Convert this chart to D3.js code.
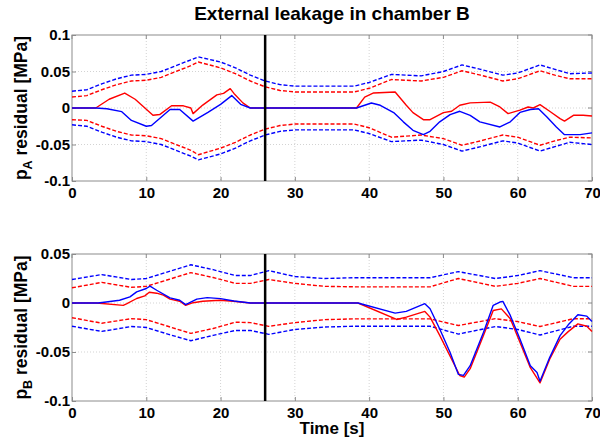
<!DOCTYPE html>
<html><head><meta charset="utf-8">
<script src="https://cdn.jsdelivr.net/npm/d3@7"></script>
<style>body{margin:0;background:#fff}svg{display:block}text{font-family:"Liberation Sans",Arial,sans-serif;font-weight:bold}</style>
</head><body><svg id="c" width="600" height="439"></svg>
<script>
// ---------- data ----------
const xTicks = [0,10,20,30,40,50,60,70];
const yTicksA = [-0.1,-0.05,0,0.05,0.1];
const yTickLabelsA = ["-0.1","-0.05","0","0.05","0.1"];
const yTicksB = [-0.1,-0.05,0,0.05];
const yTickLabelsB = ["-0.1","-0.05","0","0.05"];
const faultTime = 26;

// top panel thresholds
const thrAx = [0,2,4,6,8,10,12,14,16,17,20,22,24,26,28,30,34,38,40,43,47,50,52.5,55,58,60,63,65,67,70];
const thrAblueUp = [0.023,0.025,0.033,0.040,0.045,0.046,0.050,0.058,0.066,0.070,0.063,0.055,0.045,0.037,0.032,0.030,0.030,0.030,0.035,0.046,0.044,0.050,0.059,0.053,0.045,0.048,0.059,0.053,0.047,0.048];
const thrAredUp  = [0.015,0.017,0.025,0.032,0.037,0.038,0.042,0.050,0.058,0.063,0.055,0.047,0.037,0.029,0.024,0.022,0.022,0.022,0.027,0.039,0.037,0.042,0.051,0.045,0.037,0.040,0.051,0.045,0.040,0.040];
const thrAblueLo = [-0.023,-0.025,-0.033,-0.040,-0.045,-0.046,-0.050,-0.058,-0.066,-0.071,-0.063,-0.055,-0.045,-0.037,-0.032,-0.030,-0.030,-0.030,-0.035,-0.046,-0.044,-0.050,-0.059,-0.053,-0.045,-0.048,-0.059,-0.053,-0.047,-0.050];
const thrAredLo  = [-0.016,-0.017,-0.025,-0.032,-0.037,-0.038,-0.042,-0.050,-0.058,-0.064,-0.055,-0.047,-0.037,-0.029,-0.024,-0.022,-0.022,-0.022,-0.027,-0.040,-0.037,-0.042,-0.051,-0.045,-0.037,-0.040,-0.051,-0.045,-0.040,-0.041];

// top panel residuals
const resAredX = [0,3.2,5,7.1,8.5,10.9,11.8,13.4,15,16,16.3,17.6,19.5,20.4,21.3,21.8,23,24,38.3,39.4,40.6,43.5,45,45.9,47.3,48.2,50,51.1,52.2,53.6,56.3,57.6,58.7,60.3,61.4,62.1,63,64.3,65.7,66.3,67.5,68.8,70];
const resAredY = [0,0,0.012,0.0205,0.012,-0.010,-0.009,0.003,0.003,0,-0.0077,0.004,0.018,0.020,0.0265,0.020,0.007,0,0,0.015,0.0206,0.022,0.0037,-0.0063,-0.016,-0.016,-0.0063,-0.0045,0.0037,0.007,0.008,0.0014,-0.0077,-0.003,0.0014,0,0.0046,-0.0045,-0.0146,-0.018,-0.010,-0.010,-0.011];
const resAblueX = [0,3.2,4.7,6.7,8,10,10.7,13.2,14.5,16.3,18.3,20,21.5,22.7,24,38.3,40.3,41.5,43.3,44.6,45.9,47.3,48.2,49.5,50.9,52.2,53.6,54.9,57.6,59,60.3,61.7,62.8,63.9,65.2,66.3,68.4,70];
const resAblueY = [0,0,-0.001,-0.005,-0.017,-0.025,-0.024,-0.002,-0.002,-0.018,-0.006,0.005,0.017,0.005,0,0,0.0068,0.0037,-0.0063,-0.019,-0.0306,-0.0365,-0.032,-0.019,-0.009,-0.0045,-0.010,-0.019,-0.026,-0.019,-0.006,-0.002,-0.001,-0.012,-0.026,-0.0365,-0.0365,-0.034];

// bottom panel thresholds
const thrBx = [0,4,8,10,13,16,19,22,24,26.5,30,34,38,44,48.2,52,57,60,63,67.5,70];
const thrBblueUp = [0.024,0.029,0.024,0.025,0.032,0.039,0.034,0.028,0.028,0.033,0.027,0.025,0.0258,0.0258,0.0258,0.032,0.025,0.028,0.033,0.0258,0.0258];
const thrBredUp  = [0.0155,0.021,0.016,0.017,0.024,0.031,0.026,0.020,0.020,0.024,0.020,0.017,0.0165,0.0165,0.0165,0.025,0.017,0.020,0.025,0.017,0.017];
const thrBredLo  = [-0.015,-0.0206,-0.016,-0.017,-0.024,-0.031,-0.026,-0.0196,-0.020,-0.0238,-0.020,-0.017,-0.0162,-0.0162,-0.0162,-0.023,-0.016,-0.019,-0.024,-0.016,-0.016];
const thrBblueLo = [-0.0237,-0.029,-0.024,-0.025,-0.032,-0.0385,-0.033,-0.028,-0.028,-0.032,-0.027,-0.0245,-0.0237,-0.0237,-0.0237,-0.0317,-0.024,-0.027,-0.0327,-0.0237,-0.0237];

// bottom panel residuals
const resBredX = [0,3.3,6.9,7.4,8.7,9.8,10.4,11.4,12.3,13.2,14.5,15.3,16.3,17.6,19.9,21.7,24,38.5,43.7,45,47.5,48.2,49.5,52.2,52.8,53.6,55.4,56.7,57.8,59,60.3,61.7,63,64.3,65.7,66.8,68.1,69.3,70];
const resBredY = [0,0,-0.0024,-0.0007,0.0046,0.0073,0.011,0.010,0.008,0.0039,0.0018,-0.0024,0.0003,0.0018,0.0028,0.0018,0,0,-0.0168,-0.0144,-0.0086,-0.0144,-0.033,-0.074,-0.0756,-0.067,-0.033,-0.0076,-0.006,-0.016,-0.040,-0.066,-0.0815,-0.0574,-0.037,-0.0292,-0.0213,-0.0237,-0.029];
const resBblueX = [0,3.5,4.6,6.4,7.8,8.7,10,10.5,11.4,13.2,14.5,15.3,16.8,18.2,20,21.8,24,38.5,43.5,45,47.5,48.2,49.5,50.9,52,52.7,53.6,55.4,56.7,57.6,58,59,60.3,61.7,62.6,63,64.3,65.7,66.8,68.1,69.3,70];
const resBblueY = [0,0,0.001,0.0028,0.0062,0.0113,0.0148,0.0172,0.013,0.0052,0.0028,-0.0017,0.0039,0.0055,0.0045,0.0021,0,0,-0.0103,-0.0086,-0.0007,-0.0058,-0.0265,-0.0505,-0.0728,-0.0738,-0.064,-0.0299,-0.0024,0.001,0.0017,-0.0127,-0.0368,-0.064,-0.071,-0.0798,-0.0557,-0.0333,-0.0223,-0.012,-0.0134,-0.0189];

// ---------- drawing ----------
const svg = d3.select("#c");
const X0 = 72, X1 = 592;
const x = d3.scaleLinear().domain([0,70]).range([X0,X1]);

function panel(top, bottom, ydom, yTicks, yLabels, series, labelSub) {
  const y = d3.scaleLinear().domain(ydom).range([bottom, top]);
  const g = svg.append("g");
  // grid
  g.append("g").selectAll("line").data(xTicks.slice(1,-1)).join("line")
    .attr("x1",d=>x(d)).attr("x2",d=>x(d)).attr("y1",top).attr("y2",bottom)
    .attr("stroke","#c8c8c8").attr("stroke-width",0.8).attr("stroke-dasharray","1,2");
  g.append("g").selectAll("line").data(yTicks.slice(1,-1)).join("line")
    .attr("x1",X0).attr("x2",X1).attr("y1",d=>y(d)).attr("y2",d=>y(d))
    .attr("stroke","#c8c8c8").attr("stroke-width",0.8).attr("stroke-dasharray","1,2");
  // box
  g.append("rect").attr("x",X0).attr("y",top).attr("width",X1-X0).attr("height",bottom-top)
    .attr("fill","none").attr("stroke","#8c8c8c").attr("stroke-width",1);
  // axes
  const xa = g.append("g").attr("transform",`translate(0,${bottom})`)
    .call(d3.axisBottom(x).tickValues(xTicks).tickSize(-4).tickPadding(6).tickFormat(d3.format("d")));
  const ya = g.append("g").attr("transform",`translate(${X0},0)`)
    .call(d3.axisLeft(y).tickValues(yTicks).tickSize(-4).tickPadding(2).tickFormat((d,i)=>yLabels[i]));
  [xa,ya].forEach(a=>{
    a.select(".domain").remove();
    a.selectAll(".tick line").attr("stroke","#8c8c8c");
    a.selectAll("text").attr("font-size",15).attr("fill","#000")
      .style("font-family","'Liberation Sans',Arial,sans-serif").style("font-weight","bold");
  });
  // top-side ticks
  g.append("g").selectAll("line").data(xTicks).join("line")
    .attr("x1",d=>x(d)).attr("x2",d=>x(d)).attr("y1",top).attr("y2",top+4).attr("stroke","#8c8c8c");
  g.append("g").selectAll("line").data(yTicks).join("line")
    .attr("x1",X1-4).attr("x2",X1).attr("y1",d=>y(d)).attr("y2",d=>y(d)).attr("stroke","#8c8c8c");
  // series
  const line = (xs) => d3.line().x((d,i)=>x(xs[i])).y(d=>y(d));
  series.forEach(s=>{
    g.append("path").datum(s.y).attr("d",line(s.x)).attr("fill","none")
      .attr("stroke",s.c).attr("stroke-width",s.w).attr("stroke-dasharray",s.dash||null)
      .attr("stroke-linejoin","round");
  });
  // fault line
  g.append("line").attr("x1",x(faultTime)).attr("x2",x(faultTime)).attr("y1",top).attr("y2",bottom)
    .attr("stroke","#000").attr("stroke-width",2.5);
  // y label
  const lab = g.append("text").attr("transform",`translate(27,${(top+bottom)/2}) rotate(-90)`)
    .attr("text-anchor","middle").attr("font-size",17.5);
  lab.append("tspan").text("p");
  lab.append("tspan").attr("font-size",12.5).attr("dy",5).text(labelSub);
  lab.append("tspan").attr("dy",-5).text(" residual [MPa]");
}

const R = "#ff0000", B = "#0000ff";
panel(35, 181, [-0.1,0.1], yTicksA, yTickLabelsA, [
  {x:thrAx, y:thrAredUp, c:R, w:1.4, dash:"4,2"},
  {x:thrAx, y:thrAredLo, c:R, w:1.4, dash:"4,2"},
  {x:thrAx, y:thrAblueUp, c:B, w:1.4, dash:"4,2"},
  {x:thrAx, y:thrAblueLo, c:B, w:1.4, dash:"4,2"},
  {x:resAredX, y:resAredY, c:R, w:1.4},
  {x:resAblueX, y:resAblueY, c:B, w:1.4}
], "A");
panel(254, 401, [-0.1,0.05], yTicksB, yTickLabelsB, [
  {x:thrBx, y:thrBredUp, c:R, w:1.4, dash:"4,2"},
  {x:thrBx, y:thrBredLo, c:R, w:1.4, dash:"4,2"},
  {x:thrBx, y:thrBblueUp, c:B, w:1.4, dash:"4,2"},
  {x:thrBx, y:thrBblueLo, c:B, w:1.4, dash:"4,2"},
  {x:resBredX, y:resBredY, c:R, w:1.4},
  {x:resBblueX, y:resBblueY, c:B, w:1.4}
], "B");

svg.append("text").attr("x",332).attr("y",20).attr("text-anchor","middle").attr("font-size",19)
  .text("External leakage in chamber B");
svg.append("text").attr("x",332).attr("y",434).attr("text-anchor","middle").attr("font-size",17)
  .text("Time [s]");
</script></body></html>
